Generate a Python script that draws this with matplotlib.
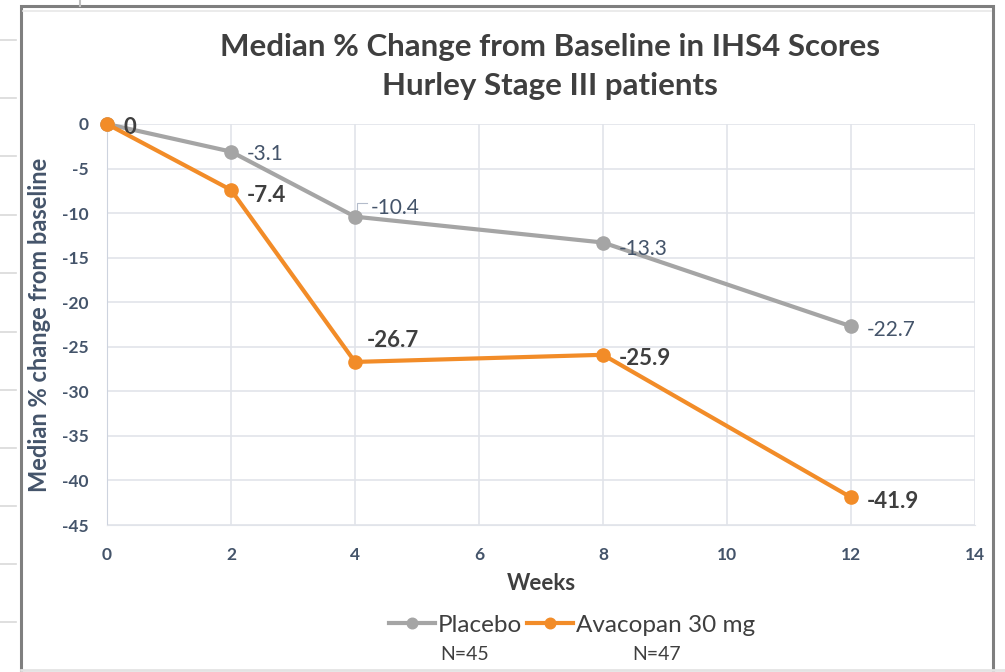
import matplotlib.pyplot as plt
from matplotlib.lines import Line2D
from matplotlib.patches import Rectangle

weeks = [0, 2, 4, 8, 12]
placebo = [0, -3.1, -10.4, -13.3, -22.7]
avacopan = [0, -7.4, -26.7, -25.9, -41.9]
placebo_n = "N=45"
avacopan_n = "N=47"

x_ticks = [0, 2, 4, 6, 8, 10, 12, 14]
y_ticks = [0, -5, -10, -15, -20, -25, -30, -35, -40, -45]

gray = "#a5a5a5"
orange = "#f28c28"
slate = "#44546a"
dark = "#3f3f3f"

plt.rcParams['font.family'] = ['Lato', 'DejaVu Sans']

fig = plt.figure(figsize=(10.05, 6.72), dpi=100)
fig.patch.set_facecolor("white")

# spreadsheet cells peeking out on the left
for yy in [40, 98, 156, 215, 273, 332, 390, 448, 506, 564, 622]:
    fig.add_artist(Line2D([0, 16 / 1005], [1 - yy / 672] * 2, color="#d9d9d9",
                          lw=1.2, transform=fig.transFigure))
fig.add_artist(Line2D([80 / 1005] * 2, [1, 1 - 6 / 672], color="#bfbfbf",
                      lw=1.5, transform=fig.transFigure))
fig.add_artist(Line2D([21 / 1005, 1], [1 - 670 / 672] * 2, color="#e3e3e3",
                      lw=2, transform=fig.transFigure))

# chart frame
fig.add_artist(Rectangle((21 / 1005, -0.05), (993 - 21) / 1005, 1.05 - 6 / 672,
                         fill=False, ec="#7f7f7f", lw=2.2, transform=fig.transFigure))
fig.add_artist(Line2D([23 / 1005, 991 / 1005], [1 - 11 / 672] * 2, color="#e8e8e8",
                      lw=1.2, transform=fig.transFigure))

ax = fig.add_axes([107 / 1005, 1 - 525 / 672, 868 / 1005, 401 / 672])

ax.plot(weeks, placebo, color=gray, lw=3, marker="o", ms=9.5, label="Placebo",
        zorder=3, clip_on=False)
ax.plot(weeks, avacopan, color=orange, lw=3, marker="o", ms=9.5, label="Avacopan 30 mg",
        zorder=4, clip_on=False)

ax.set_xlim(0, 14)
ax.set_ylim(-45, 0)
ax.set_xticks(x_ticks)
ax.set_yticks(y_ticks)
ax.set_xticklabels([str(t) for t in x_ticks])
ax.set_yticklabels([str(t) for t in y_ticks])
ax.grid(True, color="#e1e4ea", lw=1.2)
ax.set_axisbelow(True)
for s in ["top", "right"]:
    ax.spines[s].set_visible(False)
ax.spines["left"].set_color("#cdd3de")
ax.spines["bottom"].set_color("#e1e4ea")
ax.tick_params(length=0, labelsize=12.5, labelcolor=slate)
ax.tick_params(axis="x", pad=16)
ax.tick_params(axis="y", pad=13)
for lab in ax.get_xticklabels() + ax.get_yticklabels():
    lab.set_fontweight("bold")

ax.set_ylabel("Median % change from baseline", fontsize=17, fontweight="bold",
              color=slate)
ax.yaxis.set_label_coords(-(107 - 40) / 868, 0.5)
ax.set_xlabel("Weeks", fontsize=16, fontweight="bold", color=dark)
ax.xaxis.set_label_coords(0.5, -(583 - 525) / 401)
ax.xaxis.label.set_va("center")
ax.yaxis.label.set_va("center")

# data labels
p_off = [(0, 0), (16, -2), (16, 9), (16, -6), (16, -4)]
for i, (w, v) in enumerate(zip(weeks, placebo)):
    if i == 0:
        continue
    ax.annotate(f"{v:g}", (w, v), xytext=p_off[i], textcoords="offset pixels",
                ha="left", va="center", fontsize=15, color=slate)
ax.plot([4.03, 4.03, 4.2], [-9.6, -8.9, -8.9], color="#b4bccb", lw=0.8)

a_off = [(16, -4), (16, -6), (12, 21), (16, -4), (16, -4)]
for w, v, off in zip(weeks, avacopan, a_off):
    ax.annotate(f"{v:g}", (w, v), xytext=off, textcoords="offset pixels",
                ha="left", va="center", fontsize=16, fontweight="bold", color=dark)

fig.text(550 / 1005, 1 - 47 / 672, "Median % Change from Baseline in IHS4 Scores",
         ha="center", va="center", fontsize=22.5, fontweight="bold", color=dark)
fig.text(550 / 1005, 1 - 86 / 672, "Hurley Stage III patients",
         ha="center", va="center", fontsize=22.5, fontweight="bold", color=dark)

leg = fig.legend(loc="center", bbox_to_anchor=(572 / 1005, 1 - 625 / 672), ncol=2,
                 frameon=False, fontsize=17.5, handlelength=1.9, handletextpad=0.1,
                 columnspacing=0.2, markerscale=0.8)
for t in leg.get_texts():
    t.set_color(dark)

fig.text(465 / 1005, 1 - 655 / 672, placebo_n, ha="center", va="center",
         fontsize=14, color=dark)
fig.text(657 / 1005, 1 - 655 / 672, avacopan_n, ha="center", va="center",
         fontsize=14, color=dark)

fig.savefig("out.png", dpi=100)
